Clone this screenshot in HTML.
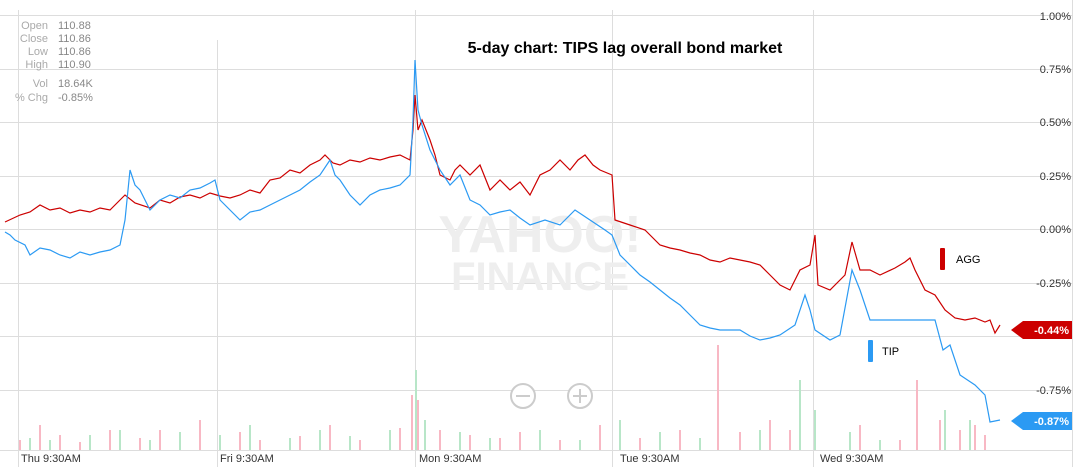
<!DOCTYPE html>
<html><head><meta charset="utf-8"><style>
body{margin:0;background:#fff;font-family:"Liberation Sans",sans-serif}
</style></head><body>
<svg width="1080" height="467" xmlns="http://www.w3.org/2000/svg" font-family="Liberation Sans, sans-serif">
<rect width="1080" height="467" fill="#fff"/>
<g stroke="#ddd" stroke-width="1">
<line x1="0" y1="15.5" x2="1072" y2="15.5"/><line x1="0" y1="69.5" x2="1072" y2="69.5"/>
<line x1="0" y1="122.5" x2="1072" y2="122.5"/><line x1="0" y1="176.5" x2="1072" y2="176.5"/>
<line x1="0" y1="229.5" x2="1072" y2="229.5"/><line x1="0" y1="283.5" x2="1072" y2="283.5"/>
<line x1="0" y1="336.5" x2="1072" y2="336.5"/><line x1="0" y1="390.5" x2="1072" y2="390.5"/>
<line x1="0" y1="450.5" x2="1072" y2="450.5"/>
<line x1="18.5" y1="10" x2="18.5" y2="467"/><line x1="217.5" y1="40" x2="217.5" y2="467"/>
<line x1="415.5" y1="10" x2="415.5" y2="467"/><line x1="612.5" y1="10" x2="612.5" y2="467"/>
<line x1="813.5" y1="10" x2="813.5" y2="467"/><line x1="1072.5" y1="0" x2="1072.5" y2="467"/>
</g>
<text x="540" y="252" font-size="52" fill="#eee" text-anchor="middle" font-weight="bold">YAHOO!</text>
<text x="540" y="290" font-size="40" fill="#eee" text-anchor="middle" font-weight="bold">FINANCE</text>
<g font-size="11" fill="#aaa" text-anchor="end">
<text x="48" y="29">Open</text><text x="48" y="42">Close</text><text x="48" y="55">Low</text><text x="48" y="68">High</text><text x="48" y="87">Vol</text><text x="48" y="101">% Chg</text>
</g>
<g font-size="11" fill="#888">
<text x="58" y="29">110.88</text><text x="58" y="42">110.86</text><text x="58" y="55">110.86</text><text x="58" y="68">110.90</text><text x="58" y="87">18.64K</text><text x="58" y="101">-0.85%</text>
</g>
<text x="625" y="53" font-size="16" font-weight="bold" fill="#000" text-anchor="middle">5-day chart: TIPS lag overall bond market</text>
<g font-size="11" fill="#333" text-anchor="end">
<text x="1071" y="20">1.00%</text><text x="1071" y="73">0.75%</text><text x="1071" y="126">0.50%</text><text x="1071" y="180">0.25%</text><text x="1071" y="233">0.00%</text><text x="1071" y="287">-0.25%</text><text x="1071" y="394">-0.75%</text>
</g>
<g font-size="11" fill="#333">
<text x="21" y="462">Thu 9:30AM</text><text x="220" y="462">Fri 9:30AM</text><text x="419" y="462">Mon 9:30AM</text><text x="620" y="462">Tue 9:30AM</text><text x="820" y="462">Wed 9:30AM</text>
</g>
<g stroke-width="2">
<path stroke="#f8b8c4" d="M20 450V440M40 450V425M60 450V435M80 450V442M110 450V430M140 450V438M160 450V430M200 450V420M240 450V432M260 450V440M300 450V436M330 450V425M360 450V440M400 450V428M412 450V395M418 450V400M440 450V430M470 450V435M500 450V438M520 450V432M560 450V440M600 450V425M640 450V438M680 450V430M718 450V345M740 450V432M770 450V420M790 450V430M860 450V425M900 450V440M917 450V380M940 450V420M960 450V430M975 450V425M985 450V435"/>
<path stroke="#b8e6c8" d="M30 450V438M50 450V440M90 450V435M120 450V430M150 450V440M180 450V432M220 450V435M250 450V425M290 450V438M320 450V430M350 450V436M390 450V430M416 450V370M425 450V420M460 450V432M490 450V438M540 450V430M580 450V440M620 450V420M660 450V432M700 450V438M760 450V430M800 450V380M815 450V410M850 450V432M880 450V440M945 450V410M970 450V420"/>
</g>
<circle cx="523" cy="396" r="12" fill="#fff" stroke="#ccc" stroke-width="2"/><line x1="516" y1="396" x2="530" y2="396" stroke="#ccc" stroke-width="2"/>
<circle cx="580" cy="396" r="12" fill="#fff" stroke="#ccc" stroke-width="2"/><line x1="573" y1="396" x2="587" y2="396" stroke="#ccc" stroke-width="2"/><line x1="580" y1="389" x2="580" y2="403" stroke="#ccc" stroke-width="2"/>
<polyline fill="none" stroke="#cc0000" stroke-width="1.2" points="5,222 20,215 30,212 40,205 50,210 60,208 70,213 80,210 90,212 100,208 110,210 120,200 125,195 135,203 150,208 160,200 170,203 180,197 190,195 200,198 210,193 220,196 230,198 240,195 250,190 260,193 270,180 280,178 290,170 300,173 310,165 320,160 325,155 333,163 340,165 350,160 360,162 370,158 380,160 390,157 400,155 410,160 413,130 415,95 418,130 422,120 430,140 435,155 440,175 450,180 455,170 460,165 470,175 480,165 490,190 500,180 510,190 520,182 530,195 540,175 550,170 560,160 570,170 578,160 585,155 593,165 600,170 612,175 615,220 630,225 645,230 650,235 660,245 670,248 680,250 690,253 700,255 710,260 720,262 730,258 740,260 750,262 760,265 770,275 780,285 790,290 800,270 810,265 815,235 818,285 830,290 845,275 852,242 860,270 870,270 880,275 895,268 905,262 910,258 915,270 925,290 935,295 945,310 955,318 965,320 975,318 985,322 990,320 995,333 1000,325"/>
<polyline fill="none" stroke="#2b9af3" stroke-width="1.2" points="5,232 10,235 15,240 25,245 30,255 40,248 50,250 60,255 70,258 80,252 90,255 100,252 110,250 120,245 125,220 130,170 135,185 140,190 150,210 160,200 170,195 180,198 190,190 200,188 210,183 215,180 220,200 230,210 240,220 250,212 260,210 270,205 280,200 290,195 300,190 310,182 320,175 330,160 335,175 340,180 350,195 360,205 370,195 380,190 390,188 400,185 410,175 413,120 415,60 418,110 422,125 430,150 440,170 450,185 460,175 470,200 480,205 490,215 500,212 510,210 520,218 530,225 545,220 560,225 575,210 590,220 605,230 612,235 620,255 630,265 640,275 650,282 660,290 670,298 680,305 690,315 700,325 710,328 720,330 730,330 740,330 750,336 760,340 770,338 780,335 795,325 805,295 810,310 815,330 830,340 840,335 852,270 860,290 870,320 935,320 943,350 950,345 960,375 975,385 985,395 990,422 995,421 1000,420"/>
<rect x="940" y="248" width="5" height="22" fill="#cc0000" rx="1"/><text x="956" y="263" font-size="11" fill="#000">AGG</text>
<rect x="868" y="340" width="5" height="22" fill="#2b9af3" rx="1"/><text x="882" y="355" font-size="11" fill="#000">TIP</text>
<path d="M1011 330 L1023 321 L1072 321 L1072 339 L1023 339 Z" fill="#cc0000"/><text x="1069" y="334" font-size="11" fill="#fff" font-weight="bold" text-anchor="end">-0.44%</text>
<path d="M1011 421 L1023 412 L1072 412 L1072 430 L1023 430 Z" fill="#2b9af3"/><text x="1069" y="425" font-size="11" fill="#fff" font-weight="bold" text-anchor="end">-0.87%</text>
</svg>
</body></html>
